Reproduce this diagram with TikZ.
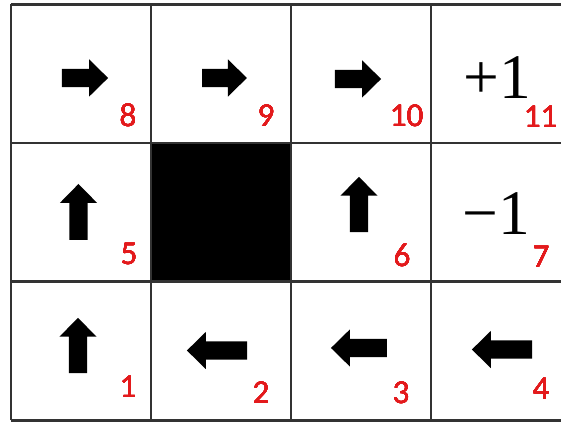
\documentclass[tikz,border=0pt]{standalone}
\usepackage{fontspec}
\usepackage{xcolor}
\newfontfamily\idxfont{Carlito}
\newfontfamily\rwdfont{Liberation Serif}
\definecolor{idx}{HTML}{E31A1C}
\tikzset{
  gridln/.style={line width=1pt, draw=black!80},
  idxlbl/.style={anchor=base east, inner sep=0pt, text=idx, font=\idxfont\fontsize{13.5}{14}\selectfont},
  rwdlbl/.style={anchor=base, inner sep=0pt, font=\rwdfont\fontsize{25.8}{26}\selectfont}}
\newcommand{\mvarrow}[4]{% x, y, angle, length
  \fill[shift={(#1,#2)}, rotate=#3] (-#4/2,-0.13) -- ({#4/2-0.27},-0.13) -- ({#4/2-0.27},-0.265)
    -- (#4/2,0) -- ({#4/2-0.27},0.265) -- ({#4/2-0.27},0.13) -- (-#4/2,0.13) -- cycle;}

\begin{document}
\begin{tikzpicture}
\useasboundingbox (-0.157,-0.039) rectangle (7.857,6.004);
% wall cell
\fill (2,1.98) rectangle (4,3.96);
\draw[gridln] (0,0) grid[xstep=2, ystep=1.98] (7.857,5.945);
% policy
\foreach \x/\y/\a/\l in {1.057/4.89/0/0.66, 3.05/4.89/0/0.64, 4.957/4.876/0/0.66,
    0.964/2.976/90/0.80, 4.971/3.083/90/0.79, 0.957/1.069/90/0.79,
    2.943/0.997/180/0.86, 4.971/1.033/180/0.80, 7.014/1.011/180/0.86}
  \mvarrow{\x}{\y}{\a}{\l}
% state numbers
\foreach \n/\x/\y in {1/1.8/0.319, 2/3.7/0.233, 3/5.7/0.247, 4/7.7/0.29,
    5/1.814/2.219, 6/5.714/2.204, 7/7.7/2.176,
    8/1.8/4.19, 9/3.771/4.19, 10/5.9/4.19, 11/7.814/4.176}
  \node[idxlbl] (n\n) at (\x,\y) {\n};
% rewards
\node[rwdlbl] (rpos) at (6.943,4.604) {+1};
\node[rwdlbl] (rneg) at (6.929,2.647) {−1};
\end{tikzpicture}
\end{document}
